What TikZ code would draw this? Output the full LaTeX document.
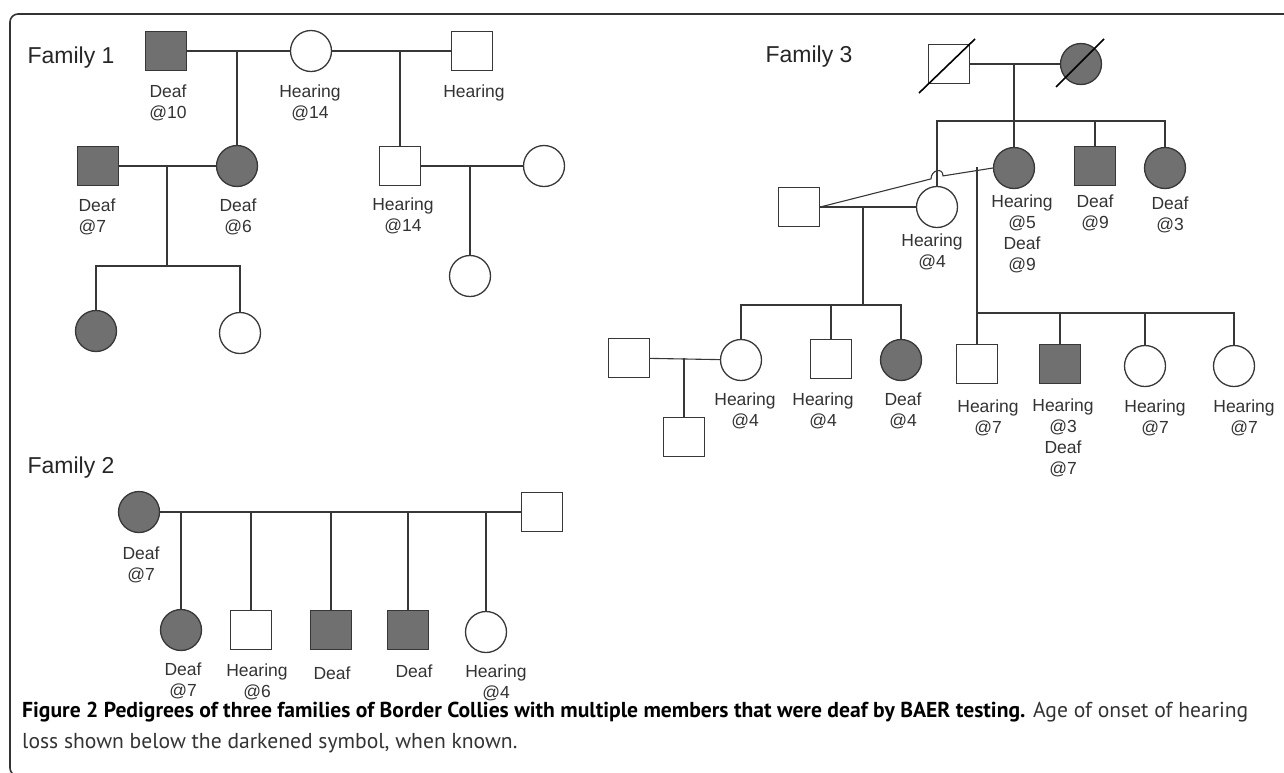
\documentclass[tikz,border=0pt]{standalone}
\usepackage{fontspec}
\newfontfamily\pedfont{Liberation Sans}
\newfontfamily\capfont{PT Sans}
\usetikzlibrary{shapes.geometric}

\definecolor{deafgray}{RGB}{112,112,112}
\definecolor{linegray}{RGB}{55,55,55}

\tikzset{
  male/.style={rectangle, draw=linegray, line width=1.3pt, minimum width=41pt, minimum height=39pt, inner sep=0pt},
  female/.style={ellipse, draw=linegray, line width=1.3pt, minimum width=41pt, minimum height=41pt, inner sep=0pt},
  deaf/.style={fill=deafgray},
  link/.style={draw=linegray, line width=1.1pt},
  dead/.style={draw=black, line width=1.6pt},
  lab/.style={font=\pedfont\fontsize{17.5}{21}\selectfont, align=center, inner sep=0pt, text=black!80},
  fam/.style={font=\pedfont\fontsize{23}{27}\selectfont, inner sep=0pt, text=black!85},
  captext/.style={font=\capfont\fontsize{21.6}{25}\selectfont, inner sep=0pt, anchor=west}
}

\begin{document}
\begin{tikzpicture}[x=1pt,y=-1pt]
\useasboundingbox (0,0) rectangle (1284,772);
\draw[line width=1.6pt, black!80, rounded corners=8pt] (1290,14) -- (10,14) -- (10,776) -- (30,776);

% Family 1
\node[fam] (fam1) at (71,58) {Family 1};
\node[male,deaf] (A1) at (166,51) {};
\node[female] (B1) at (311,51) {};
\node[male] (C1) at (472,51) {};
\node[male,deaf] (F1) at (98,166) {};
\node[female,deaf] (D1) at (237,166) {};
\node[male] (E1) at (400,166) {};
\node[female] (I1) at (544,166) {};
\node[female,deaf] (G1) at (96,331) {};
\node[female] (H1) at (240,333) {};
\node[female] (J1) at (470,276) {};
\coordinate (m1) at (237,51);
\coordinate (m2) at (400,51);
\coordinate (m3) at (167,166);
\coordinate (s3) at (167,266);
\coordinate (m4) at (470,166);
\draw[link] (A1) -- (B1) -- (C1);
\draw[link] (m1) -- (D1);
\draw[link] (m2) -- (E1);
\draw[link] (F1) -- (D1);
\draw[link] (E1) -- (I1);
\draw[link] (m3) -- (s3);
\draw[link] (G1) |- (s3) -| (H1);
\draw[link] (m4) -- (J1);
\node[lab] (tA1) at (168,103) {Deaf\\@10};
\node[lab] (tB1) at (310,103) {Hearing\\@14};
\node[lab] (tC1) at (474,93) {Hearing};
\node[lab,align=left] (tF1) at (97,217) {Deaf\\@7};
\node[lab] (tD1) at (238,217) {Deaf\\@6};
\node[lab] (tE1) at (403,216) {Hearing\\@14};

% Family 3
\node[fam] (fam3) at (809,57) {Family 3};
\node[male] (K3) at (949,64) {};
\node[female,deaf] (L3) at (1081,64) {};
\draw[dead] ([shift={(-30,29)}]K3.center) -- ([shift={(26,-25)}]K3.center);
\draw[dead] ([shift={(-25,23)}]L3.center) -- ([shift={(23,-25)}]L3.center);
\node[male] (M3) at (799,207) {};
\node[female] (N3) at (937,207) {};
\node[female,deaf] (O3) at (1014,168) {};
\node[male,deaf] (P3) at (1095,166) {};
\node[female,deaf] (Q3) at (1165,168) {};
\node[male] (U3) at (629,358) {};
\node[male] (V3) at (684,437) {};
\node[female] (R3) at (741,360) {};
\node[male] (S3) at (831,359) {};
\node[female,deaf] (T3) at (901,360) {};
\node[male] (W3) at (977,364) {};
\node[male,deaf] (X3) at (1060,364) {};
\node[female] (Y3) at (1145,366) {};
\node[female] (Z3) at (1234,366) {};
\coordinate (m5) at (1014,64);
\coordinate (s5) at (1014,121);
\coordinate (m6) at (977,167.3);
\coordinate (s6) at (977,313);
\coordinate (m7) at (863,207);
\coordinate (s7) at (863,305);
\coordinate (m8) at (684,358);
\coordinate (h1) at (931,178.9);
\coordinate (h2) at (943,175.9);
\draw[link] (K3) -- (L3);
\draw[link] (m5) -- (O3);
\draw[link] (N3) |- (s5) -| (Q3);
\draw[link] (P3) -- (P3 |- s5);
\draw[link] (M3) -- (N3);
\draw[link] (M3.east) -- (h1) .. controls (931,170) and (943,167) .. (h2) -- (O3.west);
\draw[link] (m6) -- (W3);
\draw[link] (s6) -| (Z3);
\draw[link] (X3) -- (X3 |- s6);
\draw[link] (Y3) -- (Y3 |- s6);
\draw[link] (m7) -- (s7);
\draw[link] (R3) |- (s7) -| (T3);
\draw[link] (S3) -- (S3 |- s7);
\draw[link] (U3) -- (R3);
\draw[link] (m8) -- (V3);
\node[lab] (tN3) at (932,252) {Hearing\\@4};
\node[lab] (tO3) at (1022,234) {Hearing\\@5\\Deaf\\@9};
\node[lab] (tP3) at (1095,213) {Deaf\\@9};
\node[lab] (tQ3) at (1170,215) {Deaf\\@3};
\node[lab] (tR3) at (745,411) {Hearing\\@4};
\node[lab] (tS3) at (823,411) {Hearing\\@4};
\node[lab] (tT3) at (903,411) {Deaf\\@4};
\node[lab] (tW3) at (988,418) {Hearing\\@7};
\node[lab] (tX3) at (1063,438) {Hearing\\@3\\Deaf\\@7};
\node[lab] (tY3) at (1155,418) {Hearing\\@7};
\node[lab] (tZ3) at (1244,418) {Hearing\\@7};

% Family 2
\node[fam] (fam2) at (71,468) {Family 2};
\node[female,deaf] (A2) at (139,512) {};
\node[male] (B2) at (542,512) {};
\node[female,deaf] (C2) at (181,630) {};
\node[male] (D2) at (251,630) {};
\node[male,deaf] (E2) at (331,630) {};
\node[male,deaf] (F2) at (408,630) {};
\node[female] (G2) at (486,632) {};
\draw[link] (A2) -- (B2);
\foreach \kid in {C2,D2,E2,F2,G2}
  \draw[link] (\kid) -- (\kid |- A2);
\node[lab] (tA2) at (141,565) {Deaf\\@7};
\node[lab] (tC2) at (183,681) {Deaf\\@7};
\node[lab] (tD2) at (257,682) {Hearing\\@6};
\node[lab] (tE2) at (332,673) {Deaf};
\node[lab] (tF2) at (414,671) {Deaf};
\node[lab] (tG2) at (496,683) {Hearing\\@4};

% caption
\node[captext] (cap1) at (22,712) {{\bfseries Figure 2 Pedigrees of three families of Border Collies with multiple members that were deaf by BAER testing.} \textcolor{black!80}{Age of onset of hearing}};
\node[captext,text=black!80] (cap2) at (22,743) {loss shown below the darkened symbol, when known.};
\end{tikzpicture}
\end{document}
